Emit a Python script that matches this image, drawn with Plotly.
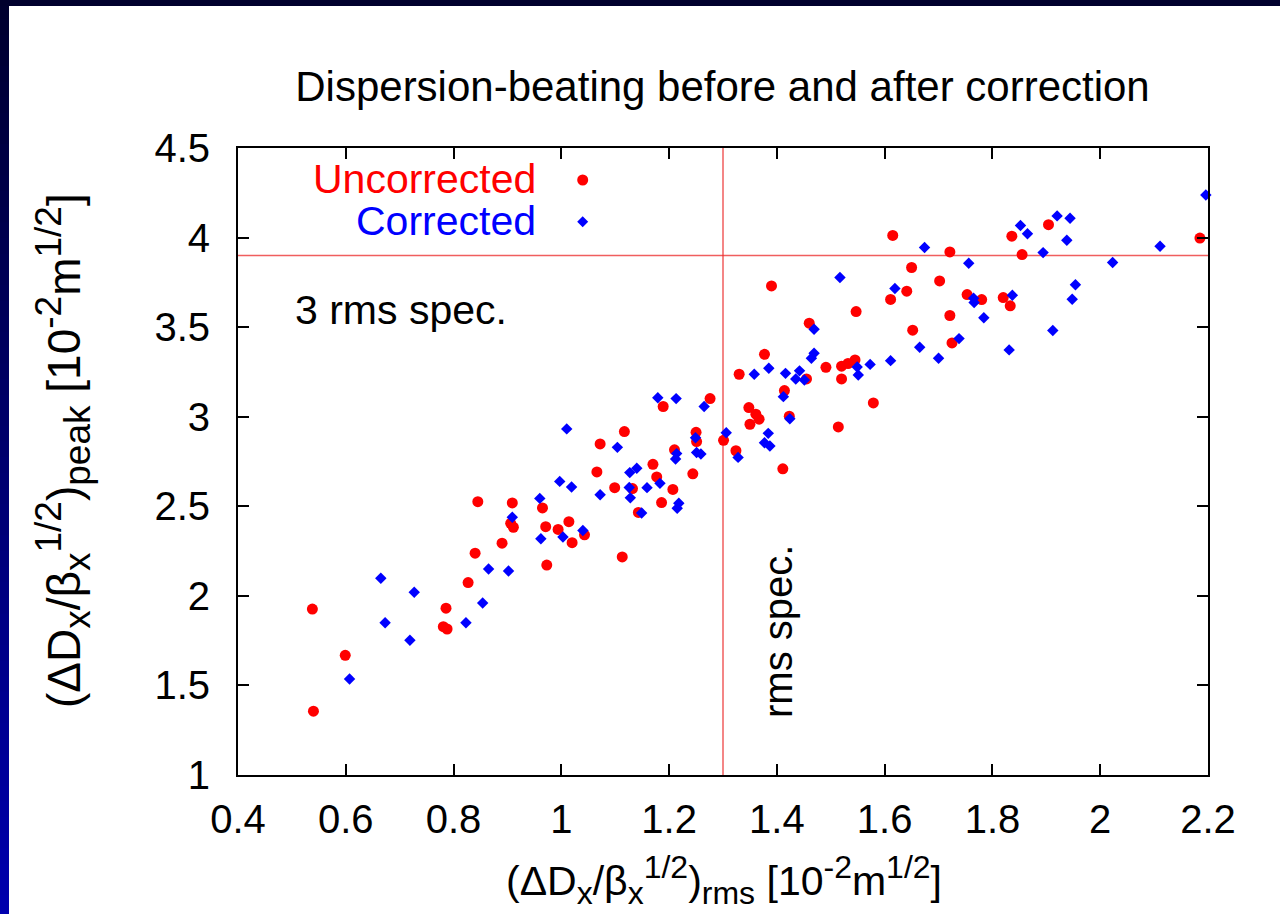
import plotly.graph_objects as go

# ---------------- data ----------------
uncorr_x = [0.538, 0.540, 0.599, 0.786, 0.781, 0.788, 0.827, 0.840, 0.845, 0.890,
            0.909, 0.906, 0.911, 0.965, 0.971, 0.973, 0.994, 1.014, 1.020, 1.043,
            1.113, 1.066, 1.072, 1.117, 1.099, 1.132, 1.143, 1.170, 1.177, 1.186,
            1.189, 1.207, 1.210, 1.244, 1.250, 1.251, 1.276, 1.301, 1.324, 1.330,
            1.348, 1.361, 1.350, 1.367, 1.377, 1.390, 1.411, 1.414, 1.423, 1.455,
            1.460, 1.491, 1.514, 1.520, 1.520, 1.532, 1.545, 1.547, 1.579, 1.611,
            1.615, 1.641, 1.650, 1.652, 1.702, 1.721, 1.721, 1.725, 1.753, 1.780,
            1.820, 1.833, 1.836, 1.855, 1.904, 2.185]
uncorr_y = [1.926, 1.356, 1.668, 1.931, 1.828, 1.815, 2.074, 2.238, 2.526, 2.294,
            2.519, 2.405, 2.383, 2.491, 2.386, 2.172, 2.371, 2.414, 2.297, 2.341,
            2.217, 2.692, 2.848, 2.917, 2.604, 2.599, 2.466, 2.734, 2.664, 2.521,
            3.057, 2.594, 2.815, 2.681, 2.913, 2.861, 3.101, 2.868, 2.810, 3.237,
            3.051, 3.014, 2.958, 2.986, 3.348, 3.730, 2.709, 3.146, 3.003, 3.211,
            3.522, 3.276, 2.943, 3.211, 3.282, 3.297, 3.317, 3.587, 3.077, 3.655,
            4.012, 3.701, 3.833, 3.483, 3.758, 3.920, 3.565, 3.412, 3.682, 3.654,
            3.665, 3.619, 4.008, 3.905, 4.072, 3.997]

corr_x = [0.607, 0.665, 0.673, 0.719, 0.727, 0.823, 0.854, 0.865, 0.902, 0.909,
          0.960, 0.962, 0.997, 1.010, 1.019, 1.003, 1.040, 1.072, 1.104, 1.126,
          1.127, 1.140, 1.128, 1.149, 1.159, 1.179, 1.183, 1.213, 1.214, 1.212,
          1.218, 1.215, 1.249, 1.251, 1.259, 1.265, 1.306, 1.328, 1.358, 1.384,
          1.377, 1.387, 1.385, 1.412, 1.416, 1.424, 1.442, 1.435, 1.451, 1.464,
          1.469, 1.469, 1.517, 1.549, 1.551, 1.573, 1.611, 1.619, 1.665, 1.674,
          1.700, 1.738, 1.756, 1.765, 1.766, 1.784, 1.831, 1.837, 1.852, 1.865,
          1.894, 1.912, 1.920, 1.938, 1.944, 1.948, 1.954, 2.023, 2.111, 2.196]
corr_y = [1.536, 2.098, 1.850, 1.752, 2.020, 1.850, 1.960, 2.150, 2.139, 2.439,
          2.544, 2.319, 2.639, 2.932, 2.608, 2.329, 2.365, 2.564, 2.829, 2.605,
          2.688, 2.712, 2.547, 2.463, 2.604, 3.106, 2.628, 3.101, 2.794, 2.764,
          2.517, 2.489, 2.883, 2.800, 2.792, 3.057, 2.911, 2.773, 3.237, 2.907,
          2.855, 2.837, 3.271, 3.112, 3.242, 2.989, 3.256, 3.211, 3.205, 3.326,
          3.354, 3.488, 3.777, 3.278, 3.233, 3.292, 3.313, 3.716, 3.388, 3.945,
          3.326, 3.436, 3.857, 3.661, 3.638, 3.552, 3.373, 3.678, 4.067, 4.021,
          3.916, 3.481, 4.121, 3.985, 4.108, 3.656, 3.737, 3.861, 3.952, 4.238]

series_names = ["Uncorrected", "Corrected"]
x_ticks = [0.4, 0.6, 0.8, 1.0, 1.2, 1.4, 1.6, 1.8, 2.0, 2.2]
x_tick_labels = ["0.4", "0.6", "0.8", "1", "1.2", "1.4", "1.6", "1.8", "2", "2.2"]
y_ticks = [1.0, 1.5, 2.0, 2.5, 3.0, 3.5, 4.0, 4.5]
y_tick_labels = ["1", "1.5", "2", "2.5", "3", "3.5", "4", "4.5"]
rms_spec = 1.3
peak_spec = 3.9

# ---------------- styling ----------------
FONT = "Liberation Sans, Arial, Helvetica, sans-serif"
FS = 40
RED = "#ff0000"
BLUE = "#0000ff"
W, H = 1280, 914
L, R, T, B = 238, 72, 148, 139
PW, PH = W - L - R, H - T - B


def px(xp):
    return (xp - L) / PW


def py(yp):
    return (H - B - yp) / PH


def sub(t, size=32):
    return "<sub><span style='font-size:%dpx'>%s</span></sub>" % (size, t)


def sup(t, size=32):
    return "<sup><span style='font-size:%dpx'>%s</span></sup>" % (size, t)


fig = go.Figure()
fig.add_trace(go.Scatter(x=uncorr_x, y=uncorr_y, mode="markers", name=series_names[0],
                         marker=dict(symbol="circle", size=11, color=RED, line=dict(width=0)),
                         cliponaxis=False, showlegend=False))
fig.add_trace(go.Scatter(x=corr_x, y=corr_y, mode="markers", name=series_names[1],
                         marker=dict(symbol="diamond", size=8.8, color=BLUE, line=dict(width=0)),
                         cliponaxis=False, showlegend=False))

shapes = []
# slide frame (dark blue gradient on left, navy on top)
N = 60
top_p, bot_p = py(0) + 0.02, py(H) - 0.02
step = (bot_p - top_p) / N
for i in range(N):
    f = i / (N - 1)
    col = "rgb(%d,%d,%d)" % (0, 0, int(45 + 130 * f))
    y0 = top_p + step * i
    y1 = top_p + step * (i + 1.6)
    shapes.append(dict(type="rect", xref="paper", yref="paper", x0=px(-20), x1=px(9),
                       y0=y0, y1=y1, fillcolor=col, line=dict(width=0), layer="below"))
shapes.append(dict(type="rect", xref="paper", yref="paper", x0=px(-20), x1=px(W + 20),
                   y0=py(6), y1=py(-20), fillcolor="rgb(0,0,45)", line=dict(width=0), layer="below"))

# spec lines
LINE_COL = "rgba(235,40,40,0.75)"
shapes.append(dict(type="line", xref="x", yref="paper", x0=rms_spec, x1=rms_spec, y0=0, y1=1,
                   line=dict(color=LINE_COL, width=1.5), layer="below"))
shapes.append(dict(type="line", xref="paper", yref="y", x0=0, x1=1, y0=peak_spec, y1=peak_spec,
                   line=dict(color=LINE_COL, width=1.5), layer="below"))

# legend keys
kx = px(582.7)
shapes.append(dict(type="circle", xref="paper", yref="paper", xsizemode="pixel", ysizemode="pixel",
                   xanchor=kx, yanchor=py(180), x0=-5.5, x1=5.5, y0=-5.5, y1=5.5,
                   fillcolor=RED, line=dict(width=0)))
d = 5.5
shapes.append(dict(type="path", xref="paper", yref="paper", xsizemode="pixel", ysizemode="pixel",
                   xanchor=kx, yanchor=py(221.7),
                   path="M %f,0 L 0,%f L %f,0 L 0,%f Z" % (d, d, -d, -d),
                   fillcolor=BLUE, line=dict(width=0)))

xtitle = "(ΔD" + sub("x") + "/β" + sub("x") + sup("1/2") + ")" + sub("rms") + " [10" + sup("-2") + "m" + sup("1/2") + "]"
ytitle = ("(ΔD" + sub("x", 37) + "/β" + sub("x", 37) + sup("1/2", 37) + ")" + sub("peak", 37)
          + " [10" + sup("-2", 37) + "m" + sup("1/2", 37) + "]")

annotations = [
    dict(text=series_names[0], xref="paper", yref="paper", x=px(538.3), y=py(179.2),
         xanchor="right", yanchor="middle", showarrow=False, font=dict(family=FONT, size=41, color=RED)),
    dict(text=series_names[1], xref="paper", yref="paper", x=px(538.3), y=py(220.7),
         xanchor="right", yanchor="middle", showarrow=False, font=dict(family=FONT, size=41, color=BLUE)),
    dict(text="3 rms spec.", xref="paper", yref="paper", x=px(293), y=py(309.5),
         xanchor="left", yanchor="middle", showarrow=False, font=dict(family=FONT, size=41, color="black")),
    dict(text="rms spec.", xref="paper", yref="paper", x=px(778), y=py(632),
         xanchor="center", yanchor="middle", textangle=-90, showarrow=False,
         font=dict(family=FONT, size=FS, color="black")),
    dict(text=xtitle, xref="paper", yref="paper", x=px(724), y=py(880), xanchor="center", yanchor="middle",
         showarrow=False, font=dict(family=FONT, size=41, color="black")),
    dict(text=ytitle, xref="paper", yref="paper", x=px(63), y=py(451), xanchor="center", yanchor="middle",
         textangle=-90, showarrow=False, font=dict(family=FONT, size=46, color="black")),
]

axis_common = dict(showline=True, linecolor="black", linewidth=2, mirror="ticks",
                   ticks="inside", ticklen=11, tickwidth=1.5, tickcolor="black",
                   showgrid=False, zeroline=False,
                   tickfont=dict(family=FONT, size=FS, color="black"))

fig.update_layout(
    width=W, height=H, autosize=False,
    margin=dict(l=L, r=R, t=T, b=B),
    paper_bgcolor="white", plot_bgcolor="white",
    title=dict(text="Dispersion-beating before and after correction",
               x=px(722.5), xref="paper", xanchor="center",
               y=1 - 86 / H, yref="container", yanchor="middle",
               font=dict(family=FONT, size=42, color="black")),
    xaxis=dict(range=[0.4, 2.2], tickvals=x_ticks, ticktext=x_tick_labels,
               ticklabelstandoff=8, **axis_common),
    yaxis=dict(range=[1.0, 4.5], tickvals=y_ticks, ticktext=y_tick_labels,
               ticklabelstandoff=18, **axis_common),
    shapes=shapes,
    annotations=annotations,
    showlegend=False,
)

fig.write_html("out.html")
